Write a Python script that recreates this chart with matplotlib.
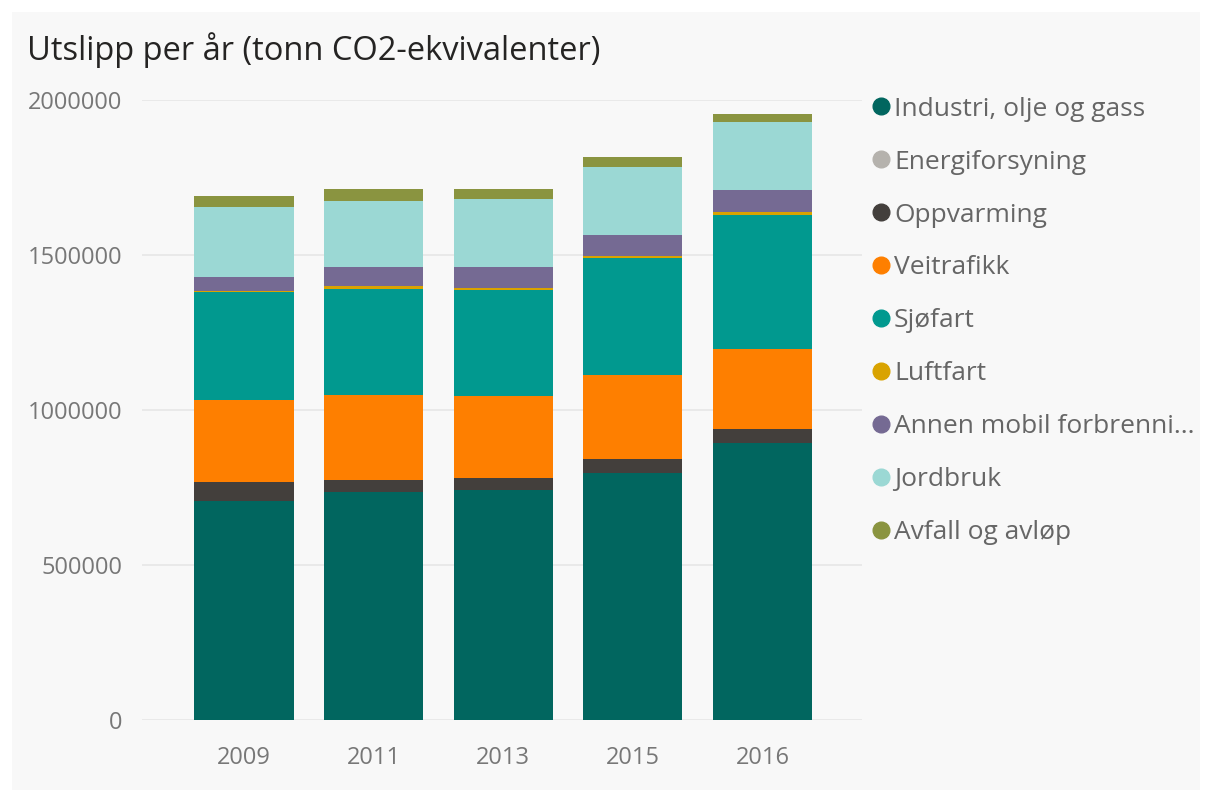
import numpy as np
import matplotlib
matplotlib.use("Agg")
import matplotlib.pyplot as plt
from matplotlib.patches import Rectangle
from matplotlib.lines import Line2D

years = ["2009", "2011", "2013", "2015", "2016"]

industri = [706000, 734000, 742000, 796000, 892000]
energi = [1500, 1500, 1500, 1500, 1500]
oppvarming = [61000, 40000, 36000, 45000, 45000]
veitrafikk = [265000, 274000, 265000, 271000, 259000]
sjofart = [348000, 342000, 343000, 376000, 433000]
luftfart = [3000, 7000, 7000, 7000, 7000]
annen_mobil = [44000, 62000, 67000, 67000, 72000]
jordbruk = [226000, 214000, 219000, 219000, 218000]
avfall = [35000, 39000, 33000, 34000, 28000]

labels = ["Industri, olje og gass", "Energiforsyning", "Oppvarming", "Veitrafikk",
          "Sjøfart", "Luftfart", "Annen mobil forbrenni...", "Jordbruk", "Avfall og avløp"]
series = [industri, energi, oppvarming, veitrafikk, sjofart, luftfart, annen_mobil, jordbruk, avfall]
colors = ["#01665f", "#b5b2ad", "#433f3c", "#fe7f00", "#01998f", "#d9a300",
          "#756a93", "#9bd8d4", "#8a9440"]

plt.rcParams['font.family'] = ['Open Sans', 'DejaVu Sans']

fig = plt.figure(figsize=(12.09, 7.98), dpi=100, facecolor="white")
panel_bg = "#f8f8f8"
fig.patches.append(Rectangle((12 / 1209, 8 / 798), 1188 / 1209, 778 / 798,
                             transform=fig.transFigure, facecolor=panel_bg,
                             edgecolor="none", zorder=-10))

ax = fig.add_axes([142 / 1209, 78 / 798, 720 / 1209, 620 / 798])
ax.set_facecolor(panel_bg)

x = np.arange(len(years))
bottom = np.zeros(len(years))
for vals, col, lab in zip(series, colors, labels):
    ax.bar(x, vals, bottom=bottom, width=0.765, color=col, label=lab, zorder=3)
    bottom += np.array(vals)

ax.set_ylim(0, 2000000)
ax.set_xlim(-0.787, 4.768)
ax.set_yticks([0, 500000, 1000000, 1500000, 2000000])
ax.set_yticklabels(["0", "500000", "1000000", "1500000", "2000000"])
ax.set_xticks(x)
ax.set_xticklabels(years)
ax.tick_params(axis="both", length=0, labelsize=17, labelcolor="#777777")
ax.tick_params(axis="y", pad=14)
ax.tick_params(axis="x", pad=19)
ax.grid(axis="y", color="#e6e6e6", linewidth=1.2, zorder=0)
for s in ax.spines.values():
    s.set_visible(False)

fig.text(27 / 1209, 1 - 50 / 798, "Utslipp per år (tonn CO2-ekvivalenter)",
         fontsize=23.5, color="#252423", va="center", ha="left")

handles = [Line2D([], [], marker="o", linestyle="none", markersize=12,
                  markerfacecolor=c, markeredgecolor=c) for c in colors]
leg = fig.legend(handles, labels, loc="upper left",
                 bbox_to_anchor=(857 / 1209, 1 - 86 / 798),
                 frameon=False, fontsize=19, labelcolor="#666666",
                 handletextpad=0.0, labelspacing=1.06, handlelength=1.0,
                 borderaxespad=0)

fig.savefig("out.png", dpi=100, facecolor="white")
